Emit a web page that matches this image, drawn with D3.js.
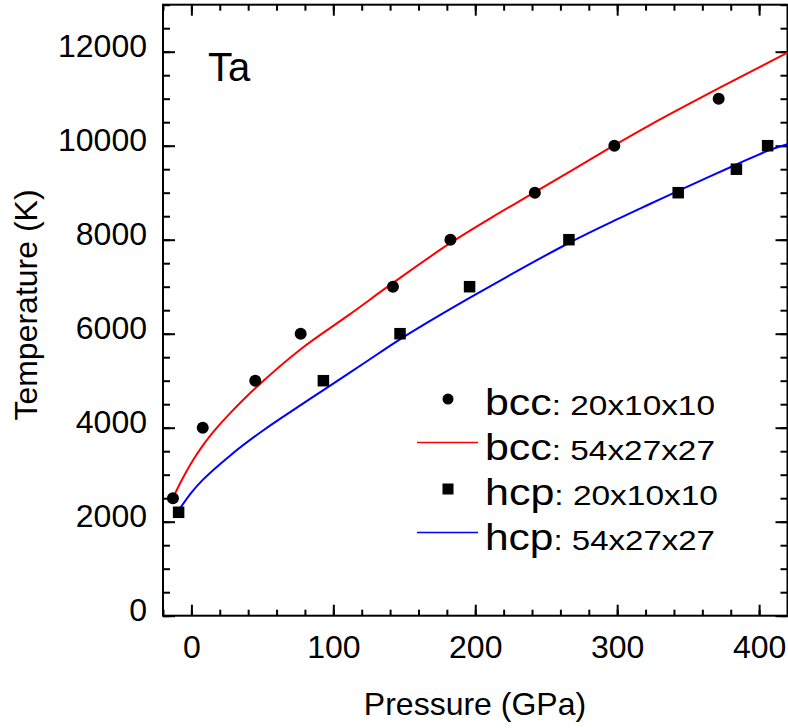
<!DOCTYPE html>
<html>
<head>
<meta charset="utf-8">
<script src="https://cdn.jsdelivr.net/npm/d3@7"></script>
<style>
  body { margin: 0; background: #fff; }
  svg { display: block; font-family: Arial, "Liberation Sans", sans-serif; }
  .axis path, .axis line { stroke: #000; stroke-width: 2; }
</style>
</head>
<body>
<div id="chart"></div>
<script>
// bcc points, 20x10x10 cell
var bccP = [-13, 8, 45, 77, 142, 182.5, 242, 298, 371.5];
var bccT = [2500, 4000, 5000, 6000, 7000, 8000, 9000, 10000, 11000];
// hcp points, 20x10x10 cell
var hcpP = [-9, 93, 147, 196, 266, 343, 384, 406];
var hcpT = [2200, 5000, 6000, 7000, 8000, 9000, 9500, 10000];
// bcc curve, 54x27x27 cell
var bccFitP = [-12, -6, 1, 8, 18, 27, 45, 77, 111, 142, 182, 212, 242, 298, 323, 372, 420];
var bccFitT = [2570, 2930, 3300, 3620, 4000, 4300, 4840, 5670, 6400, 7080, 7920, 8480, 9010, 10010, 10440, 11230, 11980];
// hcp curve, 54x27x27 cell
var hcpFitP = [-8, 0, 8, 27, 50, 77, 93, 121, 147, 196, 266, 299, 323, 343, 384, 406, 420];
var hcpFitT = [2285, 2620, 2890, 3400, 3930, 4480, 4800, 5360, 5880, 6760, 7930, 8420, 8760, 9040, 9600, 9890, 10030];

var legendRows = [
  {phase: 'bcc', cell: '20x10x10', kind: 'circle'},
  {phase: 'bcc', cell: '54x27x27', kind: 'line', color: '#ff0000'},
  {phase: 'hcp', cell: '20x10x10', kind: 'square'},
  {phase: 'hcp', cell: '54x27x27', kind: 'line', color: '#0000ff'}
];

var width = 788, height = 728;
var margin = {left: 163, right: 0.5, top: 4.7, bottom: 112.3};

var svg = d3.select('#chart').append('svg')
  .attr('width', width)
  .attr('height', height);

var x = d3.scaleLinear()
  .domain([-20, 420])
  .range([margin.left, width - margin.right]);

var y = d3.scaleLinear()
  .domain([0, 13000])
  .range([height - margin.bottom, margin.top]);

var x0 = margin.left, x1 = width - margin.right;
var y0 = height - margin.bottom, y1 = margin.top;

var majorX = d3.range(0, 401, 100), minorX = d3.range(-20, 421, 20);
var majorY = d3.range(0, 12001, 2000), minorY = d3.range(0, 13001, 500);

// minor ticks first, then major ones with labels
var addAxis = (axis, tf) => {
  var g = svg.append('g').attr('class', 'axis').attr('transform', tf).call(axis);
  g.select('.domain').remove();
  return g;
};

addAxis(d3.axisBottom(x).tickValues(minorX).tickSize(-6).tickFormat(''), 'translate(0,' + y0 + ')');
addAxis(d3.axisTop(x).tickValues(minorX).tickSize(-6).tickFormat(''), 'translate(0,' + y1 + ')');
addAxis(d3.axisLeft(y).tickValues(minorY).tickSize(-7).tickFormat(''), 'translate(' + x0 + ',0)');
addAxis(d3.axisRight(y).tickValues(minorY).tickSize(-7).tickFormat(''), 'translate(' + x1 + ',0)');

var bx = addAxis(d3.axisBottom(x).tickValues(majorX).tickSize(-11).tickPadding(20).tickFormat(d3.format('d')), 'translate(0,' + y0 + ')');
addAxis(d3.axisTop(x).tickValues(majorX).tickSize(-11).tickFormat(''), 'translate(0,' + y1 + ')');
var ly = addAxis(d3.axisLeft(y).tickValues(majorY).tickSize(-12).tickPadding(16).tickFormat(d3.format('d')), 'translate(' + x0 + ',0)');
addAxis(d3.axisRight(y).tickValues(majorY).tickSize(-12).tickFormat(''), 'translate(' + x1 + ',0)');

bx.selectAll('text').attr('font-size', 32).attr('fill', '#000').attr('font-family', null);
ly.selectAll('text').attr('font-size', 32).attr('fill', '#000').attr('font-family', null).attr('dy', '5px');

// frame
svg.append('rect')
  .attr('x', x0).attr('y', y1)
  .attr('width', x1 - x0).attr('height', y0 - y1)
  .attr('fill', 'none').attr('stroke', '#000').attr('stroke-width', 2);

// curves
var line = d3.line()
  .x(d => x(d[0]))
  .y(d => y(d[1]))
  .curve(d3.curveCatmullRom);

svg.append('path')
  .datum(d3.zip(bccFitP, bccFitT))
  .attr('d', line)
  .attr('fill', 'none').attr('stroke', '#ff0000').attr('stroke-width', 2);

svg.append('path')
  .datum(d3.zip(hcpFitP, hcpFitT))
  .attr('d', line)
  .attr('fill', 'none').attr('stroke', '#0000ff').attr('stroke-width', 2);

// points
svg.append('g').selectAll('circle')
  .data(d3.zip(bccP, bccT))
  .enter().append('circle')
    .attr('cx', d => x(d[0]))
    .attr('cy', d => y(d[1]))
    .attr('r', 6)
    .attr('fill', '#000');

var sq = 11.5;
svg.append('g').selectAll('rect')
  .data(d3.zip(hcpP, hcpT))
  .enter().append('rect')
    .attr('x', d => x(d[0]) - sq / 2)
    .attr('y', d => y(d[1]) - sq / 2)
    .attr('width', sq).attr('height', sq)
    .attr('fill', '#000');

// axis titles
svg.append('text')
  .attr('x', 475).attr('y', 715)
  .attr('text-anchor', 'middle')
  .attr('font-size', 32)
  .text('Pressure (GPa)');

svg.append('text')
  .attr('transform', 'translate(37,305) rotate(-90)')
  .attr('text-anchor', 'middle')
  .attr('font-size', 32)
  .text('Temperature (K)');

svg.append('text')
  .attr('x', 208).attr('y', 81)
  .attr('font-size', 40)
  .text('Ta');

// legend
var lg = svg.append('g');
legendRows.forEach((r, i) => {
  var by = 415 + i * 45;
  var my = by - 16;
  if (r.kind == 'circle') {
    lg.append('circle').attr('cx', 448).attr('cy', my).attr('r', 5.5).attr('fill', '#000');
  } else if (r.kind == 'square') {
    lg.append('rect').attr('x', 448 - 5.5).attr('y', my - 5.5).attr('width', 11).attr('height', 11).attr('fill', '#000');
  } else {
    lg.append('line').attr('x1', 417).attr('x2', 478).attr('y1', by - 17.5).attr('y2', by - 17.5)
      .attr('stroke', r.color).attr('stroke-width', 1.3);
  }
  var t = lg.append('text')
    .attr('x', 485).attr('y', by)
    .attr('textLength', r.phase == 'hcp' && r.cell == '20x10x10' ? 233 : 230)
    .attr('lengthAdjust', 'spacingAndGlyphs');
  t.append('tspan').attr('font-size', 36).text(r.phase);
  t.append('tspan').attr('font-size', 28).text(': ' + r.cell);
});
</script>
</body>
</html>
